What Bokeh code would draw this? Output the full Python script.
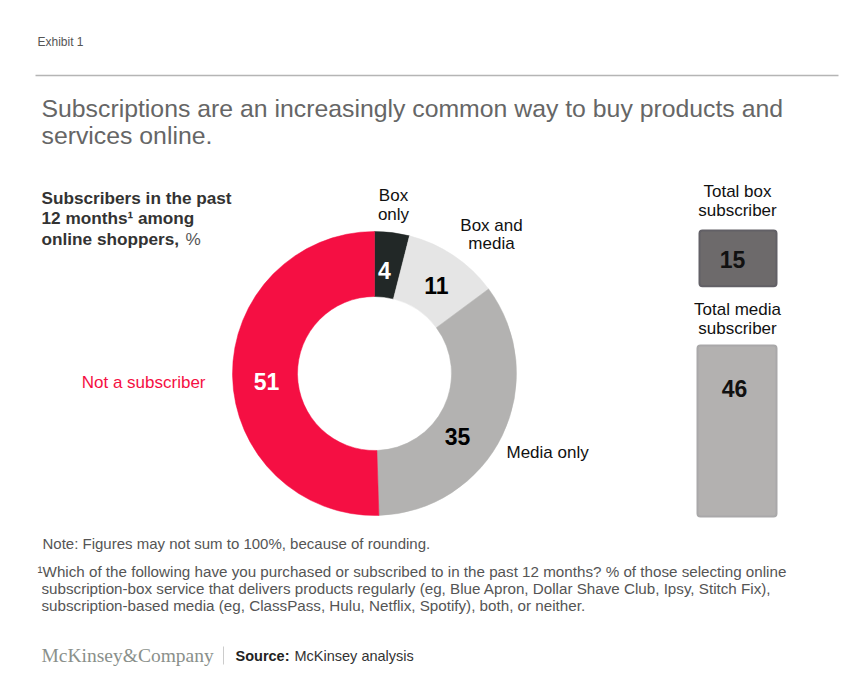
import numpy as np
from bokeh.plotting import figure
from bokeh.models import Range1d
from bokeh.core.properties import value
from bokeh.embed import file_html
from bokeh.resources import INLINE

# ---------------- data ----------------
categories = ["Box only", "Box and media", "Media only", "Not a subscriber"]
shares = [4, 11, 35, 51]
slice_colors = ["#222827", "#e5e5e5", "#b3b2b1", "#f50f43"]
value_colors = ["white", "black", "black", "white"]

total_labels = [["Total box", "subscriber"], ["Total media", "subscriber"]]
totals = [15, 46]
total_colors = ["#6d6a6b", "#b3b1b0"]
total_line = ["#626066", "#a9a8a9"]

FONT = "Liberation Sans"

p = figure(width=841, height=677, x_range=Range1d(0, 841), y_range=Range1d(-677, 0),
           output_backend="svg", toolbar_location=None, min_border=0,
           x_axis_location=None, y_axis_location=None)
p.grid.visible = False
p.outline_line_color = None
p.background_fill_color = "white"
p.border_fill_color = "white"


def txt(x, y, s, size, color="#333333", style="normal", align="left", font=FONT):
    p.text(x=[x], y=[-y], text=[s], text_font=value(font), text_font_size=f"{size}px",
           text_color=color, text_font_style=style, text_align=align, text_baseline="middle")


# header
txt(37, 41, "Exhibit 1", 12, color="#555555")
p.segment(x0=[35], y0=[-75], x1=[838], y1=[-75], line_color="#b5b5b5", line_width=1.5)
txt(41, 108, "Subscriptions are an increasingly common way to buy products and", 24.8, color="#666666")
txt(41, 135, "services online.", 24.8, color="#666666")

# subtitle
txt(41, 197, "Subscribers in the past", 17.2, style="bold")
txt(41, 217, "12 months\u00b9 among", 17.2, style="bold")
txt(41, 238, "online shoppers,", 17.2, style="bold")
txt(185, 238, "%", 17.2, color="#555555")

# donut
cx, cy, r_in, r_out = 374, 373, 77, 142
tot = sum(shares)
cum = np.cumsum([0] + shares)
start = np.pi / 2 - 2 * np.pi * cum[:-1] / tot
end = np.pi / 2 - 2 * np.pi * cum[1:] / tot
p.annular_wedge(x=cx, y=-cy, inner_radius=r_in, outer_radius=r_out,
                start_angle=start, end_angle=end, direction="clock",
                fill_color=slice_colors, line_color=slice_colors, line_width=0.5)

# value labels (layout positions)
val_pos = [(384, 270), (436, 285), (457, 436), (266, 381)]
for (vx, vy), v, c in zip(val_pos, shares, value_colors):
    txt(vx, vy, str(v), 23, color=c, style="bold", align="center")

# category labels
txt(393, 195, "Box", 17, color="#111111", align="center")
txt(393, 214, "only", 17, color="#111111", align="center")
txt(491, 225, "Box and", 17, color="#111111", align="center")
txt(491, 243, "media", 17, color="#111111", align="center")
txt(506, 452, categories[2], 17, color="#111111")
txt(205, 382, categories[3], 17, color="#f50f43", align="right")

# totals boxes
box_top = np.array([230, 345])
box_left = [699, 697]
box_right = [776, 776]
scale = 3.72
box_bottom = box_top + np.array(totals) * scale
p.quad(left=box_left, right=box_right, top=-box_top, bottom=-box_bottom,
       fill_color=total_colors, line_color=total_line, line_width=2, border_radius=3)
txt(732, 259, str(totals[0]), 23, color="#111111", style="bold", align="center")
txt(734, 388, str(totals[1]), 23, color="#111111", style="bold", align="center")
txt(737, 191, total_labels[0][0], 17, color="#111111", align="center")
txt(737, 210, total_labels[0][1], 17, color="#111111", align="center")
txt(737, 309, total_labels[1][0], 17, color="#111111", align="center")
txt(737, 328, total_labels[1][1], 17, color="#111111", align="center")

# notes
txt(42, 543, "Note: Figures may not sum to 100%, because of rounding.", 15, color="#555555")
txt(37, 571, "\u00b9Which of the following have you purchased or subscribed to in the past 12 months? % of those selecting online", 15.2, color="#555555")
txt(41, 588, "subscription-box service that delivers products regularly (eg, Blue Apron, Dollar Shave Club, Ipsy, Stitch Fix),", 15.2, color="#555555")
txt(41, 605, "subscription-based media (eg, ClassPass, Hulu, Netflix, Spotify), both, or neither.", 15.2, color="#555555")

# footer
txt(41, 655, "McKinsey&Company", 19.5, color="#8a908b", font="Liberation Serif")
p.segment(x0=[223], y0=[-646], x1=[223], y1=[-664], line_color="#cccccc", line_width=1)
txt(235, 655, "Source:", 14.5, color="#222222", style="bold")
txt(294, 655, "McKinsey analysis", 14.5, color="#333333")

open("out.html", "w").write(file_html(p, INLINE))
